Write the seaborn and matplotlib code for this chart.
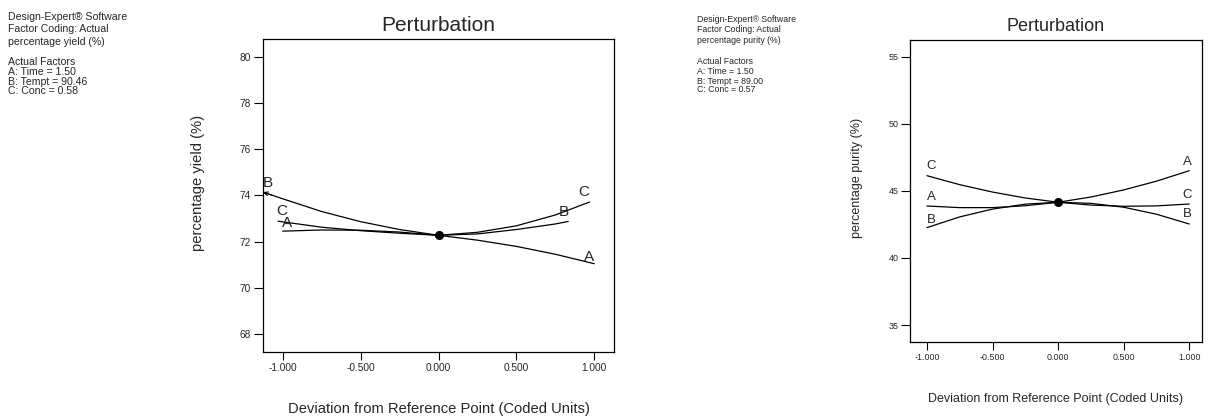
import numpy as np
import pandas as pd
import matplotlib
matplotlib.use("Agg")
import matplotlib.pyplot as plt
import seaborn as sns

# ---------------- data ----------------
# Left panel: percentage yield (%)
yield_A_x = [-1.0, -0.75, -0.5, -0.25, 0.0, 0.25, 0.5, 0.75, 1.0]
yield_A_y = [72.45, 72.50, 72.49, 72.41, 72.27, 72.06, 71.79, 71.45, 71.04]
yield_B_x = [-1.127, -1.0, -0.75, -0.5, -0.25, 0.0, 0.25, 0.5, 0.75, 0.833]
yield_B_y = [74.14, 73.85, 73.30, 72.86, 72.52, 72.27, 72.33, 72.52, 72.76, 72.87]
yield_C_x = [-1.03, -0.75, -0.5, -0.25, 0.0, 0.25, 0.5, 0.75, 0.97]
yield_C_y = [72.88, 72.62, 72.47, 72.36, 72.27, 72.40, 72.68, 73.15, 73.71]
yield_ref = 72.27

# Right panel: percentage purity (%)
purity_A_x = [-1.0, -0.75, -0.5, -0.25, 0.0, 0.25, 0.5, 0.75, 1.0]
purity_A_y = [43.87, 43.75, 43.75, 43.89, 44.15, 44.54, 45.07, 45.72, 46.50]
purity_B_x = [-1.0, -0.75, -0.5, -0.25, 0.0, 0.25, 0.5, 0.75, 1.0]
purity_B_y = [42.26, 43.06, 43.64, 44.01, 44.15, 44.07, 43.78, 43.26, 42.53]
purity_C_x = [-1.0, -0.75, -0.5, -0.25, 0.0, 0.25, 0.5, 0.75, 1.0]
purity_C_y = [46.13, 45.46, 44.91, 44.47, 44.15, 43.94, 43.85, 43.88, 44.02]
purity_ref = 44.15

x_ticks = [-1.0, -0.5, 0.0, 0.5, 1.0]
x_tick_labels = ["-1.000", "-0.500", "0.000", "0.500", "1.000"]
yield_ticks = [68, 70, 72, 74, 76, 78, 80]
purity_ticks = [35, 40, 45, 50, 55]

title = "Perturbation"
xlabel = "Deviation from Reference Point (Coded Units)"
yield_label = "percentage yield (%)"
purity_label = "percentage purity (%)"

left_info = ["Design-Expert\u00ae Software", "Factor Coding: Actual", "percentage yield (%)",
             "Actual Factors", "A: Time = 1.50", "B: Tempt = 90.46", "C: Conc = 0.58"]
right_info = ["Design-Expert\u00ae Software", "Factor Coding: Actual", "percentage purity (%)",
              "Actual Factors", "A: Time = 1.50", "B: Tempt = 89.00", "C: Conc = 0.57"]

# ---------------- styling ----------------
sns.set_theme(style="white")
plt.rcParams["font.family"] = ["Liberation Sans", "DejaVu Sans"]
plt.rcParams["axes.edgecolor"] = "black"
plt.rcParams["axes.linewidth"] = 0.9

W, H = 1209, 418
fig = plt.figure(figsize=(W / 100, H / 100), dpi=100)


def frame(px0, px1, py_top, py_bot):
    return [px0 / W, 1 - py_bot / H, (px1 - px0) / W, (py_bot - py_top) / H]


def make_df(xa, ya, xb, yb, xc, yc):
    rows = []
    for name, xs, ys in (("A", xa, ya), ("B", xb, yb), ("C", xc, yc)):
        for x, y in zip(xs, ys):
            rows.append({"factor": name, "dev": x, "resp": y})
    return pd.DataFrame(rows)


def draw_panel(ax, df, ref, ticks, ylabel, xlim, ylim, fs_tick, fs_lab, fs_title,
               fs_letter, labels, ylab_pos, xlab_pos, title_y, arrow=None):
    sns.lineplot(data=df, x="dev", y="resp", units="factor", estimator=None,
                 sort=False, color="black", lw=0.9, ax=ax, legend=False)
    ax.plot([0], [ref], "o", color="black", ms=5.5, zorder=5)
    ax.set_xlim(*xlim)
    ax.set_ylim(*ylim)
    ax.set_xticks(x_ticks)
    ax.set_xticklabels(x_tick_labels)
    ax.set_yticks(ticks)
    ax.set_yticklabels([str(t) for t in ticks])
    ax.tick_params(axis="both", which="major", direction="out", length=6.5,
                   width=0.8, color="black", labelsize=fs_tick, pad=2,
                   left=True, bottom=True)
    ax.tick_params(axis="x", length=5.8)
    for sp in ax.spines.values():
        sp.set_visible(True)
        sp.set_color("black")
        sp.set_linewidth(0.9)
    ax.set_xlabel(xlabel, fontsize=fs_lab, va="center")
    ax.set_ylabel(ylabel, fontsize=fs_lab, va="center")
    ax.yaxis.set_label_coords(*ylab_pos)
    ax.xaxis.set_label_coords(*xlab_pos)
    ax.text(0.5, title_y, title, transform=ax.transAxes, ha="center",
            va="center", fontsize=fs_title)
    for (name, x, y, dx, dy) in labels:
        ax.annotate(name, xy=(x, y), xytext=(dx, dy), textcoords="offset pixels",
                    ha="center", va="center", fontsize=fs_letter)
    if arrow is not None:
        (x0, y0), (x1, y1) = arrow
        ax.annotate("", xy=(x0, y0), xytext=(x1, y1),
                    arrowprops=dict(arrowstyle="->", lw=0.8, color="black",
                                    shrinkA=0, shrinkB=0, mutation_scale=7))


# Left panel
ax1 = fig.add_axes(frame(263, 614, 39, 351.7))
df1 = make_df(yield_A_x, yield_A_y, yield_B_x, yield_B_y, yield_C_x, yield_C_y)
labels1 = [
    ("B", yield_B_x[0], yield_B_y[0], 5, 9),
    ("C", yield_C_x[0], yield_C_y[0], 4, 10),
    ("A", yield_A_x[0], yield_A_y[0], 4, 8),
    ("C", yield_C_x[-1], yield_C_y[-1], -6, 10),
    ("B", yield_B_x[-1], yield_B_y[-1], -4, 9),
    ("A", yield_A_x[-1], yield_A_y[-1], -5, 7),
]
draw_panel(ax1, df1, yield_ref, yield_ticks, yield_label,
           (-1.127, 1.127), (67.23, 80.77), 7.3, 10.6, 15, 11, labels1,
           (-0.185, 0.54), (0.5, -0.183), 1.042,
           arrow=((yield_B_x[0], yield_B_y[0]), (yield_B_x[0] + 0.06, yield_B_y[0] - 0.14)))

# Right panel
ax2 = fig.add_axes(frame(910.3, 1201.7, 40, 341.7))
df2 = make_df(purity_A_x, purity_A_y, purity_B_x, purity_B_y, purity_C_x, purity_C_y)
labels2 = [
    ("C", purity_C_x[0], purity_C_y[0], 4, 10),
    ("A", purity_A_x[0], purity_A_y[0], 4, 9),
    ("B", purity_B_x[0], purity_B_y[0], 4, 8),
    ("A", purity_A_x[-1], purity_A_y[-1], -2, 9),
    ("C", purity_C_x[-1], purity_C_y[-1], -2, 9),
    ("B", purity_B_x[-1], purity_B_y[-1], -2, 10),
]
draw_panel(ax2, df2, purity_ref, purity_ticks, purity_label,
           (-1.127, 1.095), (33.76, 56.24), 6.4, 9.0, 13, 9.5, labels2,
           (-0.183, 0.543), (0.5, -0.19), 1.044)

# Info text blocks
left_y = [16.7, 29.2, 41.7, 61.7, 71.7, 81.7, 90.7]
for s, y in zip(left_info, left_y):
    fig.text(8 / W, 1 - y / H, s, ha="left", va="center", fontsize=7.6)
right_y = [19.3, 30.0, 40.7, 61.7, 71.7, 81.0, 90.0]
for s, y in zip(right_info, right_y):
    fig.text(697 / W, 1 - y / H, s, ha="left", va="center", fontsize=6.3)

fig.savefig("out.png", dpi=100)
